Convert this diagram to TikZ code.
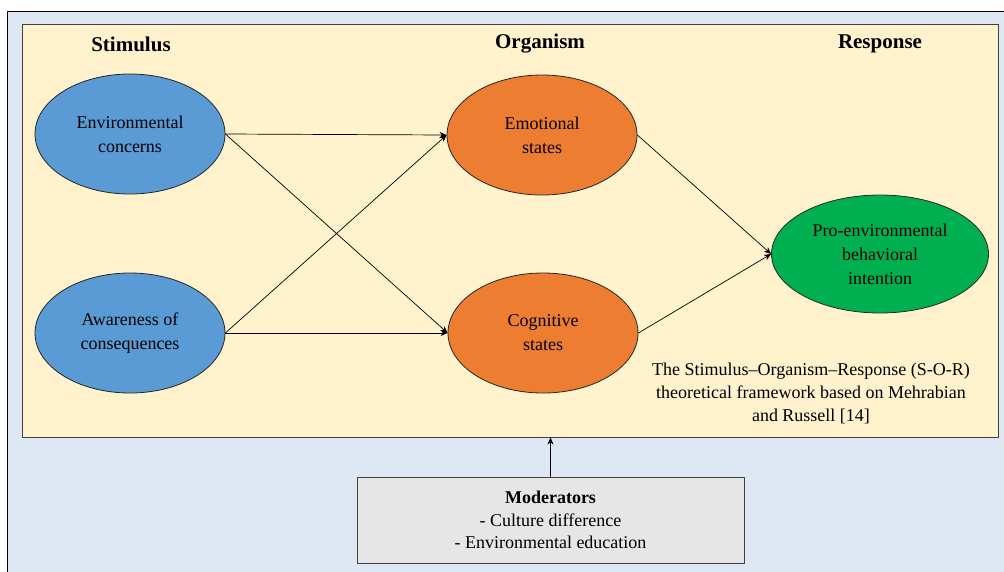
\documentclass[tikz,border=0pt]{standalone}
\usepackage{fontspec}
\setmainfont{Liberation Serif}
\usetikzlibrary{arrows.meta}
\usetikzlibrary{shapes.geometric}
\definecolor{outerblue}{HTML}{DEE8F5}
\definecolor{frameyellow}{HTML}{FFF2CC}
\definecolor{stimblue}{HTML}{5B9BD5}
\definecolor{orgorange}{HTML}{ED7D31}
\definecolor{respgreen}{HTML}{00B050}
\definecolor{modgray}{HTML}{E6E6E6}

\begin{document}
\begin{tikzpicture}[line cap=round,line join=round,x=1pt,y=-1pt,
  oval/.style={ellipse, draw=black!85, line width=0.8pt, minimum width=190pt, minimum height=120pt, inner sep=0pt, align=center, font=\fontsize{18}{24}\selectfont},
  head/.style={font=\fontsize{21}{25}\selectfont\bfseries},
  link/.style={-{Stealth[length=7pt,width=6pt]}, line width=0.7pt}]
\useasboundingbox (0,0) rectangle (1004,571);
\fill[outerblue] (7,11) rectangle (1012,580);
\draw[line width=0.9pt] (1012,11)--(7,11)--(7,580);
\node[draw=black!75, line width=0.9pt, fill=frameyellow, minimum width=976pt, minimum height=413pt, inner sep=0pt] (frame) at (510,230.5) {};
\node[head] (stim) at (131,44) {Stimulus};
\node[head] (orgn) at (540,44) {Organism};
\node[head] (resp) at (880,44) {Response};
\node[oval, fill=stimblue] (env) at (130,134) {Environmental\\concerns};
\node[oval, fill=stimblue] (aware) at (130,333) {Awareness of\\consequences};
\node[oval, fill=orgorange] (emo) at (542,135) {Emotional\\states};
\node[oval, fill=orgorange] (cog) at (543,333) {Cognitive\\states};
\node[oval, fill=respgreen, minimum width=217pt, minimum height=118pt] (pro) at (880,254) {Pro-environmental\\behavioral\\intention};
\node[align=center, font=\fontsize{18}{23}\selectfont] (note) at (811,393) {The Stimulus--Organism--Response (S-O-R)\\theoretical framework based on Mehrabian\\and Russell [14]};
\node[draw=black!75, line width=0.9pt, fill=modgray, minimum width=387pt, minimum height=86pt, align=center, font=\fontsize{18}{22.5}\selectfont] (mod) at (550.5,520) {\textbf{Moderators}\\- Culture difference\\- Environmental education};
\draw[link] (env.east)--(emo.west);
\draw[link] (env.east)--(cog.west);
\draw[link] (aware.east)--(emo.west);
\draw[link] (aware.east)--(cog.west);
\draw[link] (emo.east)--(pro.west);
\draw[link] (cog.east)--(pro.west);
\draw[link] (mod.north)--(mod.north |- frame.south);
\end{tikzpicture}
\end{document}
